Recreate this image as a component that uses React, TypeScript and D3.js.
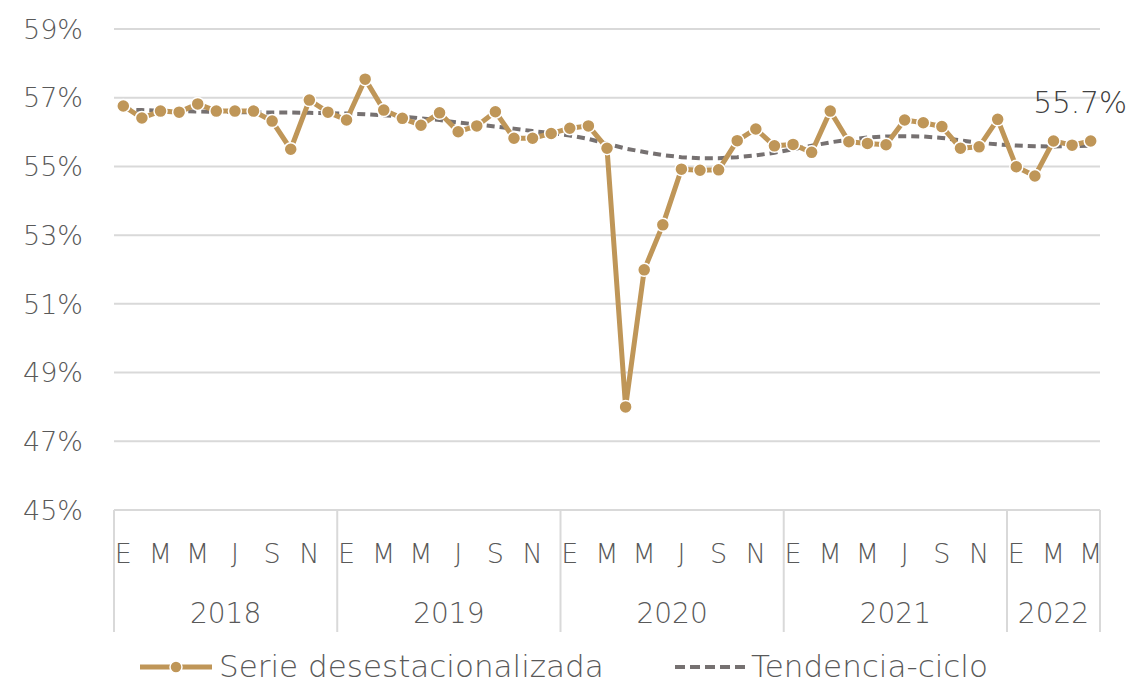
import React from "react";
import * as d3 from "d3";

const years = ["2018", "2019", "2020", "2021", "2022"];
const monthLetters = ["E", "F", "M", "A", "M", "J", "J", "A", "S", "O", "N", "D"];
const monthsPerYear = [12, 12, 12, 12, 5];

const serie = [
  56.76, 56.41, 56.61, 56.58, 56.82, 56.61, 56.61, 56.61, 56.32, 55.5, 56.93, 56.58,
  56.35, 57.54, 56.64, 56.4, 56.2, 56.56, 56.01, 56.18, 56.59, 55.82, 55.82, 55.96,
  56.11, 56.18, 55.53, 48.0, 51.99, 53.3, 54.92, 54.89, 54.9, 55.75, 56.09, 55.6,
  55.64, 55.41, 56.61, 55.72, 55.67, 55.63, 56.35, 56.27, 56.16, 55.53, 55.57, 56.37,
  54.99, 54.72, 55.74, 55.62, 55.74,
];

const tendencia = [
  56.66, 56.64, 56.62, 56.61, 56.6, 56.59, 56.58, 56.58, 56.57, 56.57, 56.56, 56.55,
  56.54, 56.52, 56.49, 56.45, 56.4, 56.35, 56.28, 56.22, 56.16, 56.1, 56.03, 55.97,
  55.9, 55.8, 55.66, 55.52, 55.42, 55.33, 55.27, 55.24, 55.24, 55.27, 55.32, 55.4,
  55.5, 55.6, 55.7, 55.78, 55.84, 55.87, 55.88, 55.87, 55.83, 55.76, 55.69, 55.64,
  55.61, 55.59, 55.58, 55.59, 55.6,
];

const yTicks = [45, 47, 49, 51, 53, 55, 57, 59];
const lastLabel = "55.7%";

const W = 1130;
const H = 685;
const left = 114;
const right = 1100;
const top = 29;
const bottom = 510;

const GOLD = "#BF9658";
const GRAY = "#767171";
const TEXT = "#595959";
const GRID = "#D9D9D9";
const FONT = "'DejaVu Sans', sans-serif";

export default function App() {
  const n = serie.length;
  const x = d3.scaleBand<number>().domain(d3.range(n)).range([left, right]).padding(0);
  const cx = (i: number) => (x(i) as number) + x.bandwidth() / 2;
  const y = d3.scaleLinear().domain([45, 59]).range([bottom, top]);

  const line = d3.line<number>().x((_, i) => cx(i)).y((d) => y(d));

  const starts: number[] = [];
  let acc = 0;
  monthsPerYear.forEach((m) => {
    starts.push(acc);
    acc += m;
  });

  const monthLabels: { i: number; t: string }[] = [];
  let k = 0;
  monthsPerYear.forEach((m) => {
    for (let j = 0; j < m; j++) {
      if (j % 2 === 0) monthLabels.push({ i: k, t: monthLetters[j] });
      k++;
    }
  });

  const sepX = starts.map((s) => x(s) as number).concat([right]);

  return (
    <svg width={W} height={H} style={{ position: "absolute", left: 0, top: 0, background: "#fff" }} fontFamily={FONT}>
      <rect x={0} y={0} width={W} height={H} fill="#fff" />
      {yTicks.map((t) => (
        <g key={t}>
          <line x1={left} x2={right} y1={y(t)} y2={y(t)} stroke={GRID} strokeWidth={2} />
          <text x={83} y={y(t)} dy="0.36em" textAnchor="end" fontSize={27} fill={TEXT} fontWeight={200}>
            {t}%
          </text>
        </g>
      ))}
      {sepX.map((sx, i) => (
        <line key={i} x1={sx} x2={sx} y1={bottom} y2={632} stroke={GRID} strokeWidth={2} />
      ))}
      {monthLabels.map((m) => (
        <text key={m.i} x={cx(m.i)} y={553} dy="0.36em" textAnchor="middle" fontSize={27} fill={TEXT} fontWeight={200}>
          {m.t}
        </text>
      ))}
      {years.map((yr, i) => (
        <text key={yr} x={(sepX[i] + sepX[i + 1]) / 2} y={613} dy="0.36em" textAnchor="middle" fontSize={28} fill={TEXT} fontWeight={200}>
          {yr}
        </text>
      ))}
      <path d={line(tendencia) || ""} fill="none" stroke={GRAY} strokeWidth={4} strokeDasharray="8,5" />
      <path d={line(serie) || ""} fill="none" stroke={GOLD} strokeWidth={5} strokeLinejoin="round" />
      {serie.map((v, i) => (
        <circle key={i} cx={cx(i)} cy={y(v)} r={6.5} fill={GOLD} stroke="#fff" strokeWidth={1.5} />
      ))}
      <text x={1127} y={y(serie[n - 1]) - 28} textAnchor="end" fontSize={29.5} fill="#404040" fontWeight={200}>
        {lastLabel}
      </text>
      <g>
        <line x1={140} x2={212} y1={667} y2={667} stroke={GOLD} strokeWidth={5} />
        <circle cx={176} cy={667} r={6} fill={GOLD} stroke="#fff" strokeWidth={1.5} />
        <text x={219} y={677} fontSize={31} fill={TEXT} fontWeight={200}>
          Serie desestacionalizada
        </text>
        <line x1={675} x2={746} y1={667} y2={667} stroke={GRAY} strokeWidth={4} strokeDasharray="10,5" />
        <text x={751} y={677} fontSize={31} fill={TEXT} fontWeight={200}>
          Tendencia-ciclo
        </text>
      </g>
    </svg>
  );
}
